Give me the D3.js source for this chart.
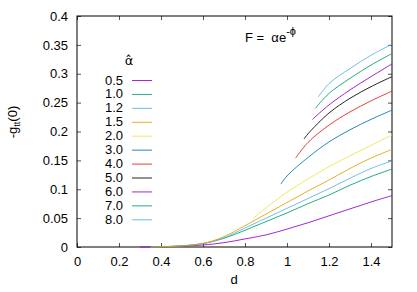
<!DOCTYPE html>
<html>
<head>
<meta charset="utf-8">
<script src="https://cdn.jsdelivr.net/npm/d3@7"></script>
<style>
  body { margin: 0; background: #fff; }
  svg { display: block; font-family: "Liberation Sans", Arial, sans-serif; }
</style>
</head>
<body>
<svg id="chart" width="417" height="292"></svg>
<script>
// alpha-hat values, one curve each: [d, -g_tt(0)]
const alphas = ['0.5', '1.0', '1.2', '1.5', '2.0', '3.0', '4.0', '5.0', '6.0', '7.0', '8.0'];

const a05 = [[0.30, 0], [0.40, 0.0004], [0.50, 0.0015], [0.60, 0.0035], [0.70, 0.0075], [0.80, 0.014], [0.90, 0.021], [1.00, 0.031], [1.10, 0.042], [1.20, 0.054], [1.30, 0.066], [1.40, 0.078], [1.50, 0.089]];
const a10 = [[0.35, 0], [0.40, 0.0005], [0.50, 0.002], [0.60, 0.006], [0.70, 0.015], [0.80, 0.029], [0.90, 0.044], [1.00, 0.059], [1.10, 0.075], [1.20, 0.090], [1.30, 0.107], [1.40, 0.122], [1.50, 0.135]];
const a12 = [[0.35, 0], [0.40, 0.0005], [0.50, 0.002], [0.60, 0.006], [0.70, 0.016], [0.80, 0.033], [0.90, 0.050], [1.00, 0.067], [1.10, 0.084], [1.20, 0.101], [1.30, 0.119], [1.40, 0.136], [1.50, 0.149]];
const a15 = [[0.35, 0], [0.40, 0.0005], [0.50, 0.002], [0.60, 0.006], [0.70, 0.018], [0.80, 0.037], [0.90, 0.057], [1.00, 0.077], [1.10, 0.097], [1.20, 0.116], [1.30, 0.136], [1.40, 0.154], [1.50, 0.169]];
const a20 = [[0.84, 0.050], [0.90, 0.068], [1.00, 0.095], [1.10, 0.118], [1.20, 0.139], [1.30, 0.158], [1.40, 0.176], [1.50, 0.194]];
const a30 = [[0.971, 0.109], [1.00, 0.123], [1.10, 0.155], [1.20, 0.182], [1.30, 0.203], [1.40, 0.221], [1.50, 0.237]];
const a40 = [[1.041, 0.154], [1.10, 0.181], [1.20, 0.211], [1.30, 0.234], [1.40, 0.253], [1.50, 0.270]];
const a50 = [[1.081, 0.187], [1.10, 0.196], [1.20, 0.232], [1.30, 0.2575], [1.40, 0.2776], [1.50, 0.295]];
const a60 = [[1.121, 0.221], [1.20, 0.246], [1.30, 0.272], [1.40, 0.295], [1.50, 0.317]];
const a70 = [[1.135, 0.240], [1.20, 0.266], [1.30, 0.292], [1.40, 0.315], [1.50, 0.335]];
const a80 = [[1.149, 0.260], [1.20, 0.283], [1.30, 0.309], [1.40, 0.332], [1.50, 0.351]];

const curves = [a05, a10, a12, a15, a20, a30, a40, a50, a60, a70, a80];

const xTicks = [0, 0.2, 0.4, 0.6, 0.8, 1, 1.2, 1.4];
const yTicks = [0, 0.05, 0.1, 0.15, 0.2, 0.25, 0.3, 0.35, 0.4];

// gnuplot default line colours
const colors = ['#9400d3', '#009e73', '#56b4e9', '#e69f00', '#f0e442', '#0072b2', '#e51e10', '#000000'];

const MARGIN = { top: 16, right: 25, bottom: 45, left: 77 };
const width = 417, height = 292;

const svg = d3.select('#chart');

const x = d3.scaleLinear().domain([0, 1.5]).range([MARGIN.left, width - MARGIN.right]);
const y = d3.scaleLinear().domain([0, 0.4]).range([height - MARGIN.bottom, MARGIN.top]);

const fmt = d => String(d);

// axes with inward ticks, mirrored on top/right
svg.append('g')
  .attr('transform', `translate(0, ${y(0)})`)
  .call(d3.axisBottom(x).tickValues(xTicks).tickSize(-4).tickPadding(10).tickFormat(fmt));
svg.append('g')
  .attr('transform', `translate(0, ${y(0.4)})`)
  .call(d3.axisTop(x).tickValues(xTicks).tickSize(-4).tickFormat(''));
svg.append('g')
  .attr('transform', `translate(${x(0)}, 0)`)
  .call(d3.axisLeft(y).tickValues(yTicks).tickSize(-4).tickPadding(9).tickFormat(fmt));
svg.append('g')
  .attr('transform', `translate(${x(1.5)}, 0)`)
  .call(d3.axisRight(y).tickValues(yTicks).tickSize(-4).tickFormat(''));

svg.selectAll('.domain').remove();
svg.selectAll('.tick line').attr('stroke', '#555');
svg.selectAll('.tick text').attr('font-size', 13).attr('fill', '#000');

svg.append('rect')
  .attr('x', x(0)).attr('y', y(0.4))
  .attr('width', x(1.5) - x(0)).attr('height', y(0) - y(0.4))
  .attr('fill', 'none').attr('stroke', '#000').attr('stroke-width', 1);

// curves
const line = d3.line()
  .x(d => x(d[0]))
  .y(d => y(d[1]))
  .curve(d3.curveCatmullRom.alpha(0.5));

svg.append('g')
  .selectAll('path')
  .data(curves)
  .join('path')
  .attr('d', line)
  .attr('fill', 'none')
  .attr('stroke', (d, i) => colors[i % colors.length])
  .attr('stroke-opacity', 0.85)
  .attr('stroke-width', 1);

// legend
const leg = svg.append('g');
leg.append('text').attr('x', 129).attr('y', 65).attr('text-anchor', 'middle')
  .attr('font-family', '"DejaVu Sans", sans-serif')
  .attr('font-size', 13).text('α\u0302');

const rowY = i => 80 + i * 13.93;
leg.selectAll('text.key')
  .data(alphas)
  .join('text')
  .attr('class', 'key')
  .attr('x', 123)
  .attr('y', (d, i) => rowY(i))
  .attr('dy', '0.35em')
  .attr('text-anchor', 'end')
  .attr('font-size', 13)
  .text(d => d);
leg.selectAll('line')
  .data(alphas)
  .join('line')
  .attr('x1', 132).attr('x2', 152)
  .attr('y1', (d, i) => rowY(i) + 0.5).attr('y2', (d, i) => rowY(i) + 0.5)
  .attr('stroke', (d, i) => colors[i % colors.length])
  .attr('stroke-opacity', 0.85)
  .attr('stroke-width', 1);

// formula label
const title = svg.append('text').attr('x', 245).attr('y', 41.5).attr('font-size', 13);
title.append('tspan').text('F =\u00a0\u00a0αe');
title.append('tspan').attr('dy', -7).attr('font-size', 11).text('-ϕ');

// axis titles
svg.append('text').attr('x', 234).attr('y', 284).attr('text-anchor', 'middle')
  .attr('font-size', 13).text('d');

const yl = svg.append('text')
  .attr('transform', 'translate(17, 122) rotate(-90)')
  .attr('text-anchor', 'middle')
  .attr('font-size', 13);
yl.append('tspan').text('-g');
yl.append('tspan').attr('dy', 3).attr('font-size', 9).text('tt');
yl.append('tspan').attr('dy', -3).text('(0)');
</script>
</body>
</html>
